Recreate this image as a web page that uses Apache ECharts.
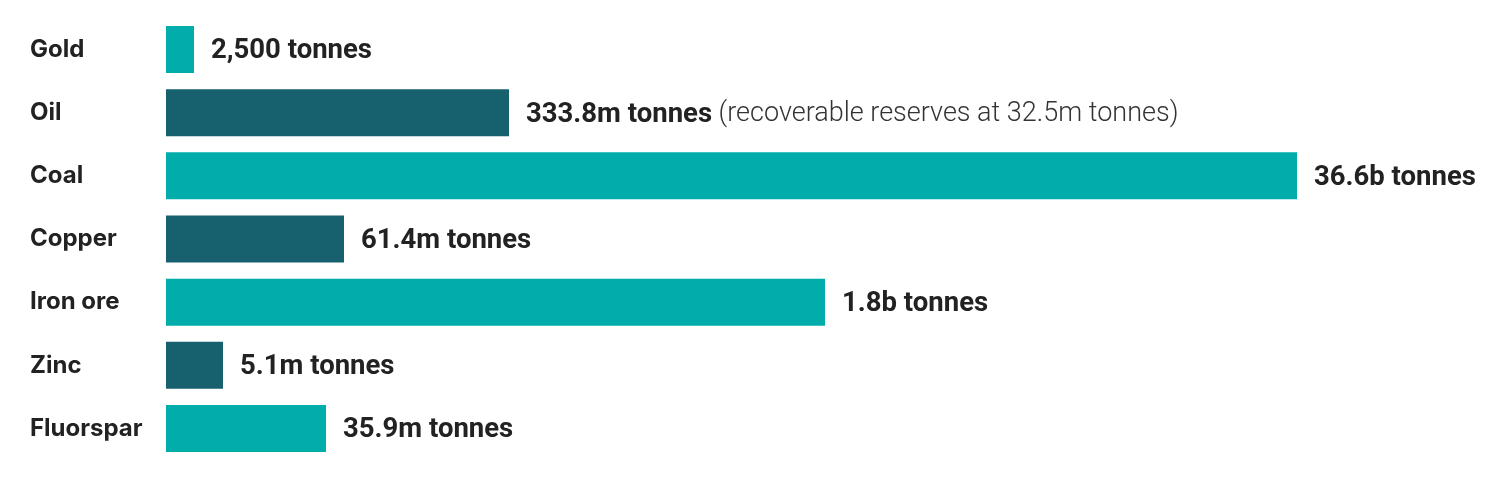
<!DOCTYPE html>
<html>
<head>
<meta charset="utf-8">
<script src="https://cdn.jsdelivr.net/npm/echarts@6/dist/echarts.min.js"></script>
<style>
  html, body { margin: 0; padding: 0; background: #fff; }
  #main { width: 1500px; height: 488px; }
</style>
</head>
<body>
<div id="main"></div>
<script>
// categories top to bottom
var categories = ['Gold', 'Oil', 'Coal', 'Copper', 'Iron ore', 'Zinc', 'Fluorspar'];
// bar lengths as drawn (illustrative, not to scale with the quantities)
var barLengths = [28, 343, 1131, 178, 659, 57, 160];
var valueLabels = ['2,500 tonnes', '333.8m tonnes', '36.6b tonnes', '61.4m tonnes', '1.8b tonnes', '5.1m tonnes', '35.9m tonnes'];
var labelNotes = ['', '(recoverable reserves at 32.5m tonnes)', '', '', '', '', ''];
var barColors = ['#00adab', '#17606d', '#00adab', '#17606d', '#00adab', '#17606d', '#00adab'];

var myChart = echarts.init(document.getElementById('main'));
var option = {
    animation: false,
    grid: { left: 166, right: 0, top: 18, bottom: 28, containLabel: false },
    xAxis: {
        type: 'value', min: 0, max: 1334,
        show: false
    },
    yAxis: {
        type: 'category',
        data: categories,
        inverse: true,
        axisLine: { show: false },
        axisTick: { show: false },
        axisLabel: {
            align: 'left',
            margin: 136,
            color: '#222',
            fontSize: 24,
            fontWeight: 'bold',
            fontFamily: 'Inter, sans-serif',
            padding: [4, 0, 0, 0]
        }
    },
    series: [{
        type: 'bar',
        barWidth: 47,
        data: barLengths.map(function (v, i) {
            return { value: v, itemStyle: { color: barColors[i] } };
        }),
        label: {
            show: true,
            position: 'right',
            distance: 17,
            offset: [0, 2],
            formatter: function (p) {
                var s = '{b|' + valueLabels[p.dataIndex] + '}';
                if (labelNotes[p.dataIndex]) s += '{n| ' + labelNotes[p.dataIndex] + '}';
                return s;
            },
            rich: {
                b: { fontFamily: 'Roboto, sans-serif', fontWeight: 'bold', fontSize: 27.5, color: '#222' },
                n: { fontFamily: 'Roboto, sans-serif', fontWeight: 300, fontSize: 27, color: '#333' }
            }
        }
    }]
};
myChart.setOption(option);
</script>
</body>
</html>
